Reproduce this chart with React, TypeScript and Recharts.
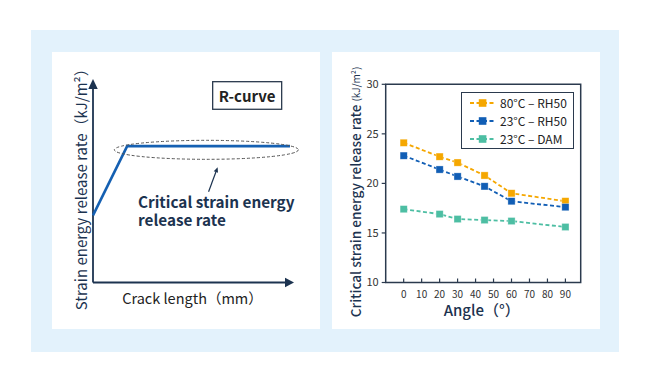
import {
  LineChart,
  Line,
  XAxis,
  YAxis,
  Legend,
  ReferenceLine,
  ReferenceDot,
  ReferenceArea,
} from "recharts";

// right chart: critical strain energy release rate vs angle
const angles = [0, 20, 30, 45, 60, 90];
const gc80RH50 = [24.1, 22.7, 22.1, 20.8, 19.0, 18.2];
const gc23RH50 = [22.8, 21.4, 20.7, 19.7, 18.2, 17.6];
const gc23DAM = [17.4, 16.9, 16.4, 16.3, 16.2, 15.6];
const angleTicks = [0, 10, 20, 30, 40, 50, 60, 70, 80, 90];
const gcTicks = [10, 15, 20, 25, 30];
const seriesNames = ["80°C – RH50", "23°C – RH50", "23°C – DAM"];
const seriesKeys = ["s80", "s23", "dam"];
const seriesColors = ["#F5A700", "#115EB5", "#4DBEA3"];

// left chart: schematic R-curve (arbitrary units 0-100)
const crackLength = [0, 17, 98];
const strainEnergy = [33, 67, 67];

const FONT = "'Noto Sans CJK JP', 'Noto Sans', sans-serif";
const NAVY = "#1c3350";
const AXIS = "#2b3a4e";

const rCurve = crackLength.map((x, i) => ({ x, y: strainEnergy[i] }));
const gcData = angles.map((a, i) => ({
  angle: a,
  s80: gc80RH50[i],
  s23: gc23RH50[i],
  dam: gc23DAM[i],
}));

const arrowShape = (head: number, width: number, color: string) => (p: any) => {
  const { x1, y1, x2, y2 } = p;
  const ang = Math.atan2(y2 - y1, x2 - x1);
  const bx = x2 - head * Math.cos(ang);
  const by = y2 - head * Math.sin(ang);
  const nx = -Math.sin(ang) * (width / 2);
  const ny = Math.cos(ang) * (width / 2);
  return (
    <g>
      <line x1={x1} y1={y1} x2={bx} y2={by} stroke={color} strokeWidth={p.strokeWidth || 1.5} />
      <polygon points={`${x2},${y2} ${bx + nx},${by + ny} ${bx - nx},${by - ny}`} fill={color} />
    </g>
  );
};

const SquareDot = (color: string) => (p: any) => {
  if (p.cx == null || p.cy == null) return <g key={p.key} />;
  return (
    <rect
      key={p.key}
      x={p.cx - 3.6}
      y={p.cy - 3.6}
      width={7.2}
      height={7.2}
      fill={color}
      stroke="#ffffff"
      strokeOpacity={0.6}
      strokeWidth={0.6}
    />
  );
};

const AngleTick = (props: any) => {
  const { x, y, payload } = props;
  return (
    <text x={x} y={y} dy="0.35em" textAnchor="middle" fontSize={10} fill="#333" fontFamily={FONT}>
      {payload.value}
    </text>
  );
};

const GcLegend = () => (
  <div
    style={{
      border: `1.5px solid ${AXIS}`,
      background: "#fff",
      padding: "0.5px 0",
      width: 111,
      fontFamily: FONT,
      fontSize: 12,
      color: "#222",
    }}
  >
    {seriesNames.map((name, i) => (
      <div key={name} style={{ height: 18, display: "flex", alignItems: "center" }}>
        <svg width={38} height={18} style={{ display: "block" }}>
          <line x1={8} x2={34} y1={9} y2={9} stroke={seriesColors[i]} strokeWidth={1.8} strokeDasharray="4 2.5" />
          <rect x={16.8} y={5.2} width={7.6} height={7.6} fill={seriesColors[i]} />
        </svg>
        <span style={{ whiteSpace: "nowrap" }}>{name}</span>
      </div>
    ))}
  </div>
);

const RCurveChart = () => (
  <LineChart width={268} height={277} data={rCurve} margin={{ top: 27, right: 26, bottom: 18.5, left: 15 }}>
    <XAxis
      type="number"
      dataKey="x"
      domain={[0, 100]}
      height={28}
      tick={false}
      axisLine={false}
      tickLine={false}
      label={{
        content: (p: any) => {
          const vb = p.viewBox;
          return (
            <text
              x={vb.x + vb.width / 2 - 1}
              y={vb.y + 14.5}
              textAnchor="middle"
              dominantBaseline="central"
              fontSize={14.5}
              fill="#222"
              fontFamily={FONT}
            >
              Crack length（mm）
            </text>
          );
        },
      }}
    />
    <YAxis
      type="number"
      domain={[0, 100]}
      width={26}
      tick={false}
      axisLine={false}
      tickLine={false}
      label={{
        content: (p: any) => {
          const vb = p.viewBox;
          const cx = vb.x + 13.5;
          const cy = vb.y + vb.height / 2 + 5;
          return (
            <text
              x={cx}
              y={cy}
              transform={`rotate(-90 ${cx} ${cy})`}
              textAnchor="middle"
              dominantBaseline="central"
              fontSize={15}
              fill={NAVY}
              fontFamily={FONT}
            >
              Strain energy release rate（kJ/m²）
            </text>
          );
        },
      }}
    />
    <ReferenceLine
      segment={[{ x: 0, y: 0 }, { x: 0, y: 100 }]}
      ifOverflow="visible"
      strokeWidth={1.8}
      shape={arrowShape(10, 9.5, NAVY)}
    />
    <ReferenceLine
      segment={[{ x: 0, y: 0 }, { x: 100, y: 0 }]}
      ifOverflow="visible"
      strokeWidth={1.8}
      shape={arrowShape(9, 9.5, NAVY)}
    />
    <Line
      type="linear"
      dataKey="y"
      stroke="#1560B2"
      strokeWidth={2.6}
      dot={false}
      isAnimationActive={false}
    />
    <ReferenceDot
      x={56.4}
      y={65.2}
      ifOverflow="visible"
      shape={(p: any) => (
        <ellipse cx={p.cx} cy={p.cy} rx={92} ry={9.5} fill="none" stroke="#555" strokeWidth={1} strokeDasharray="3 2" />
      )}
    />
    <ReferenceLine
      segment={[{ x: 57.5, y: 44.6 }, { x: 62, y: 56.6 }]}
      ifOverflow="visible"
      strokeWidth={1.2}
      shape={arrowShape(5, 4.5, NAVY)}
    />
    <ReferenceDot
      x={76.7}
      y={91.9}
      ifOverflow="visible"
      shape={(p: any) => (
        <g>
          <rect x={p.cx - 34.5} y={p.cy - 13.8} width={69} height={27.6} fill="#fff" stroke={AXIS} strokeWidth={1.3} />
          <text
            x={p.cx}
            y={p.cy}
            textAnchor="middle"
            dominantBaseline="central"
            fontSize={15}
            fontWeight={700}
            fill="#222"
            fontFamily={FONT}
          >
            R-curve
          </text>
        </g>
      )}
    />
    <ReferenceDot
      x={22.4}
      y={36.6}
      ifOverflow="visible"
      shape={(p: any) => (
        <g fontFamily={FONT} fontSize={15.3} fontWeight={700} fill={NAVY}>
          <text x={p.cx} y={p.cy}>
            Critical strain energy
          </text>
          <text x={p.cx} y={p.cy + 17.5}>
            release rate
          </text>
        </g>
      )}
    />
  </LineChart>
);

const GcChart = () => (
  <LineChart width={268} height={277} data={gcData} margin={{ top: 32.3, right: 19.3, bottom: 6.5, left: 13.7 }}>
    <XAxis
      type="number"
      dataKey="angle"
      domain={[-10, 98.5]}
      allowDataOverflow
      ticks={angleTicks}
      interval={0}
      height={40}
      axisLine={false}
      tickLine={{ stroke: AXIS, strokeWidth: 1.2 }}
      tickSize={-4}
      tickMargin={15.5}
      tick={<AngleTick />}
      label={{
        content: (p: any) => {
          const vb = p.viewBox;
          return (
            <text
              x={vb.x + vb.width / 2 - 1.5}
              y={vb.y + 26.5}
              textAnchor="middle"
              dominantBaseline="central"
              fontSize={15}
              fontWeight={500}
              fill={NAVY}
              fontFamily={FONT}
            >
              Angle（°）
            </text>
          );
        },
      }}
    />
    <YAxis
      type="number"
      domain={[10, 30]}
      ticks={gcTicks}
      interval={0}
      width={40}
      axisLine={false}
      tickSize={4}
      tickMargin={3}
      tickLine={{ stroke: AXIS, strokeWidth: 1.2 }}
      tick={{ fontSize: 11, fill: "#333", fontFamily: FONT }}
      label={{
        content: (p: any) => {
          const vb = p.viewBox;
          const cx = vb.x + 9.3;
          const cy = vb.y + vb.height / 2 + 8.5;
          return (
            <text
              x={cx}
              y={cy}
              transform={`rotate(-90 ${cx} ${cy})`}
              textAnchor="middle"
              dominantBaseline="central"
              fill={NAVY}
              fontFamily={FONT}
            >
              <tspan fontSize={13.6} fontWeight={500}>
                Critical strain energy release rate{" "}
              </tspan>
              <tspan fontSize={10}>(kJ/m²)</tspan>
            </text>
          );
        },
      }}
    />
    <ReferenceArea
      x1={-10}
      x2={98.5}
      y1={10}
      y2={30}
      ifOverflow="visible"
      fill="none"
      fillOpacity={0}
      stroke={AXIS}
      strokeWidth={1.5}
    />
    {seriesKeys.map((k, i) => (
      <Line
        key={k}
        type="linear"
        dataKey={k}
        name={seriesNames[i]}
        stroke={seriesColors[i]}
        strokeWidth={1.8}
        strokeDasharray="4 2.5"
        dot={SquareDot(seriesColors[i])}
        activeDot={false}
        isAnimationActive={false}
      />
    ))}
    <Legend
      layout="vertical"
      align="center"
      verticalAlign="middle"
      content={<GcLegend />}
      wrapperStyle={{ left: 129, top: 40.3, width: 114, bottom: "auto", right: "auto" }}
    />
  </LineChart>
);

export default function App() {
  return (
    <div style={{ position: "absolute", left: 0, top: 0, width: 650, height: 381, background: "#fff" }}>
      <div style={{ position: "absolute", left: 31, top: 30, width: 588, height: 322, background: "#E3F2FC" }} />
      <div style={{ position: "absolute", left: 52, top: 52, width: 268, height: 277, background: "#fff" }}>
        <RCurveChart />
      </div>
      <div style={{ position: "absolute", left: 332, top: 52, width: 268, height: 277, background: "#fff" }}>
        <GcChart />
      </div>
    </div>
  );
}
